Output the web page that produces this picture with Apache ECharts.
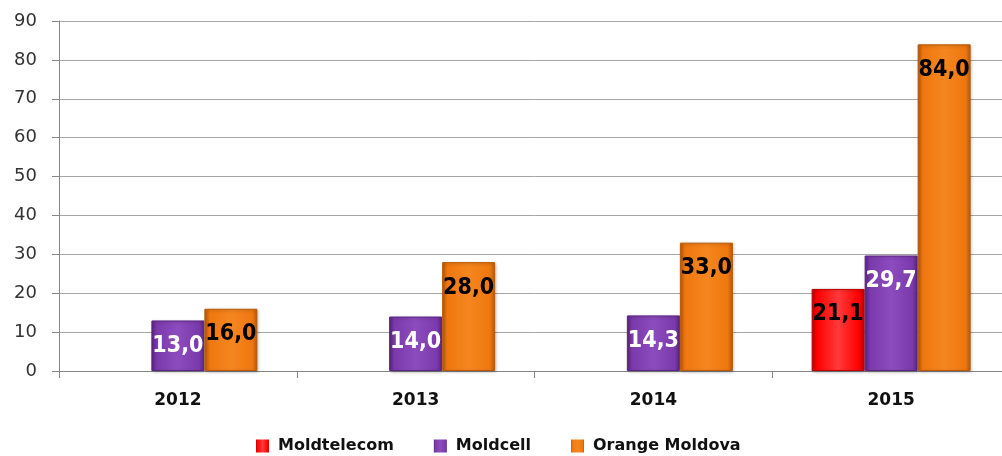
<!DOCTYPE html>
<html>
<head>
<meta charset="utf-8">
<script src="https://cdn.jsdelivr.net/npm/echarts@6/dist/echarts.min.js"></script>
<style>
  html, body { margin: 0; padding: 0; background: #fff; overflow: hidden; }
  /* zona graficului depaseste putin fereastra, ca in original */
  #chart { width: 1012px; height: 456px; }
</style>
</head>
<body>
<div id="chart"></div>
<script>
// date
const years = ['2012', '2013', '2014', '2015'];
const moldtelecom = [null, null, null, 21.1];
const moldcell = [13.0, 14.0, 14.3, 29.7];
const orange = [16.0, 28.0, 33.0, 84.0];
const yTicks = [0, 10, 20, 30, 40, 50, 60, 70, 80, 90];

const fmt = p => p.value == null ? '' : p.value.toFixed(1).replace('.', ',');

// bara cu mic efect de relief pe margini
const bevel = (dark, main, light) => new echarts.graphic.LinearGradient(1, 0, 0, 0, [
  { offset: 0, color: dark },
  { offset: 0.1, color: main },
  { offset: 0.5, color: light },
  { offset: 0.9, color: main },
  { offset: 1, color: dark }
]);

const labelFont = {
  fontFamily: '"DejaVu Sans Condensed", "DejaVu Sans", sans-serif',
  fontWeight: 'bold',
  fontSize: 23
};

const makeSeries = (name, data, colors, textColor) => ({
  name: name,
  type: 'bar',
  data: data,
  barWidth: 53,
  barGap: '0%',
  itemStyle: {
    color: bevel(colors[0], colors[1], colors[2]),
    borderColor: colors[0],
    borderWidth: 1,
    shadowColor: 'rgba(0,0,0,0.25)',
    shadowBlur: 3,
    shadowOffsetX: 1,
    shadowOffsetY: 1
  },
  label: Object.assign({
    show: true,
    position: 'insideTop',
    distance: 14,
    color: textColor,
    formatter: fmt
  }, labelFont)
});

let option = {
  animation: false,
  grid: {
    left: 59,
    top: 21,
    width: 951,
    height: 350
  },
  legend: {
    top: 433,
    left: 251,
    icon: 'rect',
    itemWidth: 13,
    itemHeight: 13,
    itemGap: 40,
    itemStyle: { borderWidth: 0, shadowBlur: 0 },
    textStyle: {
      fontFamily: '"DejaVu Sans", sans-serif',
      fontWeight: 'bold',
      fontSize: 16,
      color: '#111',
      padding: [0, 0, 0, 4]
    },
    data: ['Moldtelecom', 'Moldcell', 'Orange Moldova']
  },
  xAxis: {
    type: 'category',
    data: years,
    axisLine: { lineStyle: { color: '#868686', width: 1 } },
    axisTick: { show: true, length: 7, lineStyle: { color: '#868686' } },
    axisLabel: {
      margin: 21,
      fontFamily: '"DejaVu Sans", sans-serif',
      fontWeight: 'bold',
      fontSize: 17,
      color: '#111'
    }
  },
  yAxis: {
    type: 'value',
    min: yTicks[0],
    max: yTicks[yTicks.length - 1],
    interval: 10,
    axisLine: { show: true, lineStyle: { color: '#868686' } },
    axisTick: { show: true, length: 7, lineStyle: { color: '#868686' } },
    splitLine: { lineStyle: { color: '#a6a6a6', width: 1 } },
    axisLabel: {
      margin: 22,
      fontFamily: '"DejaVu Sans", sans-serif',
      fontSize: 18,
      color: '#333'
    }
  },
  series: [
    makeSeries('Moldtelecom', moldtelecom, ['#c00000', '#ff0000', '#ff3a3a'], '#000'),
    makeSeries('Moldcell', moldcell, ['#5a2585', '#7b3aab', '#8c4cbd'], '#fff'),
    makeSeries('Orange Moldova', orange, ['#b85a08', '#ef770f', '#f5861f'], '#000')
  ]
};

const myChart = echarts.init(document.getElementById('chart'), null, { renderer: 'canvas' });
myChart.setOption(option);
</script>
</body>
</html>
